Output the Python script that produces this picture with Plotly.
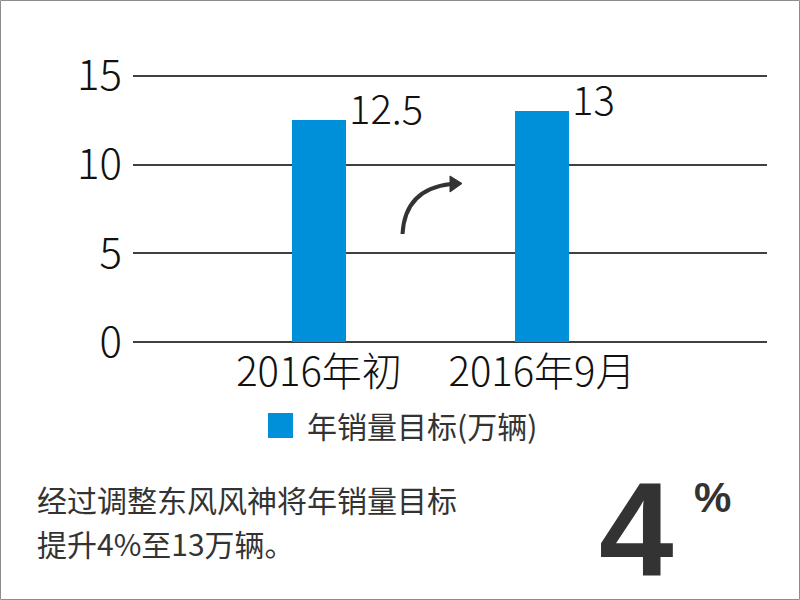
import plotly.graph_objects as go

# ---- data ----
categories = ["2016年初", "2016年9月"]
values = [12.5, 13]
value_labels = ["12.5", "13"]
series_name = "年销量目标(万辆)"
y_ticks = [0, 5, 10, 15]
note_lines = ["经过调整东风风神将年销量目标", "提升4%至13万辆。"]
big_number = "4"
big_unit = "%"

# ---- layout geometry (pixels) ----
W, H = 800, 600
PL, PR = 133, 767       # plot area left/right px
PT, PB = 73, 345        # plot area top/bottom px

def px(x):
    return (x - PL) / (PR - PL)

def py(y):
    return (PB - y) / (PB - PT)

CJK = "Noto Sans CJK SC, Noto Sans, sans-serif"
BLUE = "#0090DA"
DARK = "#333333"

xs = list(range(len(categories)))

fig = go.Figure()
fig.add_trace(go.Bar(
    x=xs, y=values, width=0.238, marker=dict(color=BLUE, line=dict(width=0)),
    name=series_name, showlegend=False, hoverinfo="skip",
))

annotations = []
# value labels at the upper right of each bar
for x, v, t in zip(xs, values, value_labels):
    annotations.append(dict(
        x=x + 0.119, y=v, xref="x", yref="y", text=t, showarrow=False,
        xanchor="left", yanchor="middle", xshift=1, yshift=13,
        font=dict(family=CJK, size=40, color="#111111", weight=300),
    ))

# legend (drawn manually to match large swatch)
annotations.append(dict(
    x=px(305), y=py(425), xref="paper", yref="paper", text=series_name,
    showarrow=False, xanchor="left", yanchor="middle",
    font=dict(family=CJK, size=30, color=DARK),
))

# note text
for i, line in enumerate(note_lines):
    annotations.append(dict(
        x=px(35), y=py(499 + 44 * i), xref="paper", yref="paper", text=line,
        showarrow=False, xanchor="left", yanchor="middle",
        font=dict(family=CJK, size=30, color=DARK),
    ))

# big number
annotations.append(dict(
    x=px(636), y=py(529), xref="paper", yref="paper", text=big_number,
    showarrow=False, xanchor="center", yanchor="middle",
    font=dict(family="Liberation Sans, Arial, sans-serif", size=134, color=DARK, weight="bold"),
))
annotations.append(dict(
    x=px(712), y=py(497), xref="paper", yref="paper", text=big_unit,
    showarrow=False, xanchor="center", yanchor="middle",
    font=dict(family="Liberation Sans, Arial, sans-serif", size=42, color=DARK, weight="bold"),
))

shapes = [
    # outer border
    dict(type="rect", xref="paper", yref="paper",
         x0=px(0.5), x1=px(799.5), y0=py(0.5), y1=py(599.5),
         line=dict(color="#8c8c8c", width=1), fillcolor="rgba(0,0,0,0)", layer="above"),
    # legend swatch
    dict(type="rect", xref="paper", yref="paper",
         x0=px(268), x1=px(293), y0=py(413), y1=py(438),
         line=dict(width=0), fillcolor=BLUE),
    # curved arrow
    dict(type="path", xref="paper", yref="paper",
         path=f"M {px(402.5)} {py(234)} Q {px(405)} {py(189)} {px(451)} {py(184)}",
         line=dict(color="#333333", width=4), fillcolor="rgba(0,0,0,0)"),
    dict(type="path", xref="paper", yref="paper",
         path=f"M {px(450)} {py(176)} L {px(462)} {py(183.5)} L {px(450)} {py(192)} Z",
         line=dict(color="#333333", width=1), fillcolor="#333333"),
]

fig.update_layout(
    width=W, height=H,
    margin=dict(l=PL, r=W - PR, t=PT, b=H - PB, pad=0),
    paper_bgcolor="white", plot_bgcolor="white",
    showlegend=False, hovermode=False,
    annotations=annotations, shapes=shapes,
    xaxis=dict(
        range=[-0.834, 2.009], tickmode="array", tickvals=xs, ticktext=categories,
        showgrid=False, zeroline=False, showline=False, ticks="",
        tickfont=dict(family=CJK, size=40, color="#111111", weight=300),
    ),
    yaxis=dict(
        range=[-0.15, 15.15], tickmode="array", tickvals=y_ticks,
        showgrid=True, gridcolor="#404040", gridwidth=2,
        zeroline=False, showline=False, ticks="", ticklabelstandoff=10,
        tickfont=dict(family=CJK, size=42, color="#111111", weight=300),
    ),
    bargap=0,
)

fig.write_html(
    "out.html",
    config={"displayModeBar": False, "staticPlot": True},
    post_script="document.body.style.margin='0';document.body.style.overflow='hidden';",
)
